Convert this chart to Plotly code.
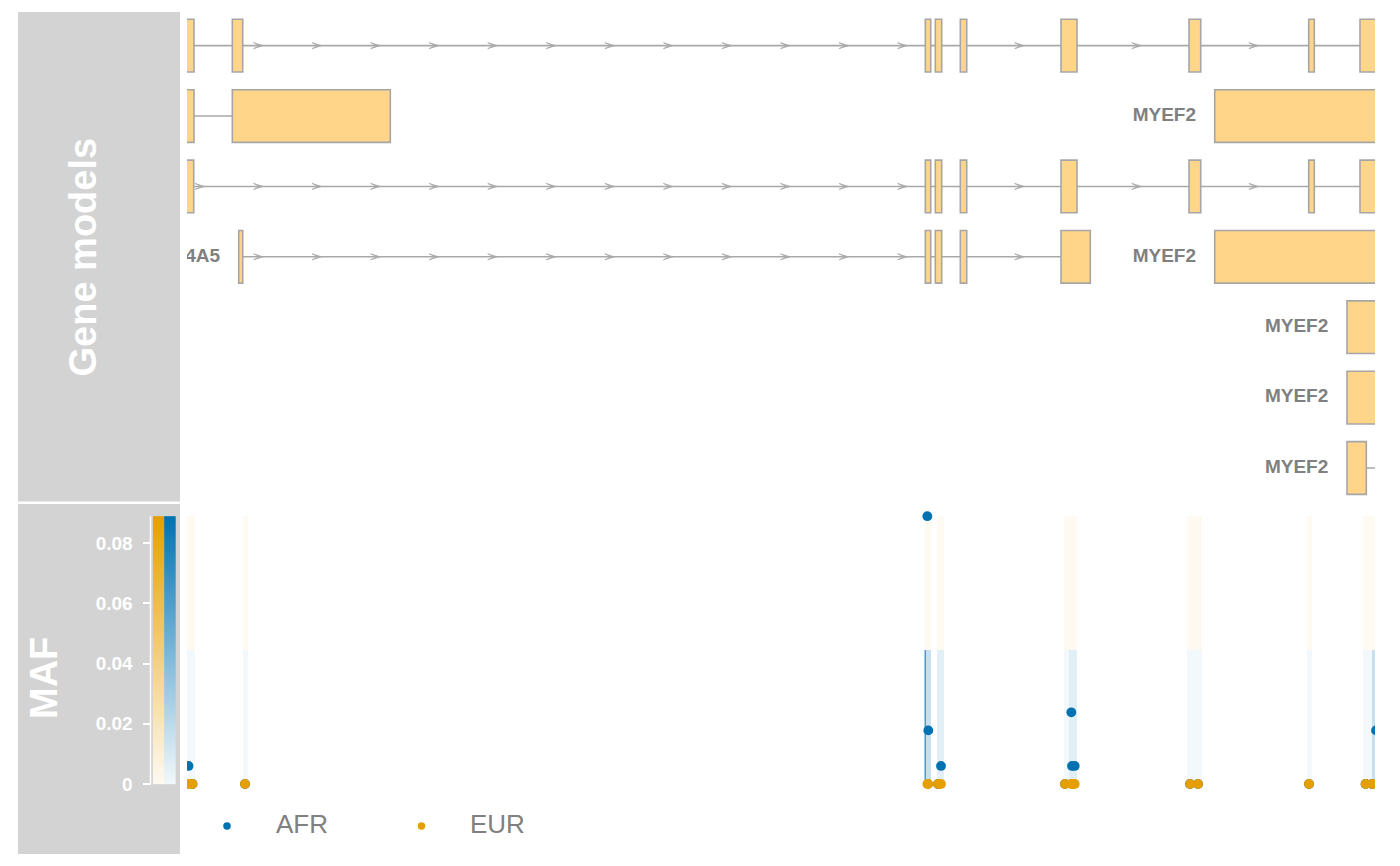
import numpy as np
import plotly.graph_objects as go

W, H = 1400, 866
FONT = "Liberation Sans, Arial, sans-serif"

# ---------------- data ----------------
REGION_START = 48120000
REGION_END = 48149700

tx_gene = ["SLC24A5", "SLC24A5", "SLC24A5", "SLC24A5",
           "MYEF2", "MYEF2", "MYEF2", "MYEF2", "MYEF2"]
tx_row = [1, 2, 3, 4, 2, 4, 5, 6, 7]
tx_strand = ["+", "+", "+", "+", "-", "-", "-", "-", "-"]
tx_exon_starts = [
    [48119575, 48121133, 48138458, 48138708, 48139333, 48141850, 48145050, 48148043, 48149325],
    [48119575, 48121133],
    [48119575, 48138458, 48138708, 48139333, 48141850, 48145050, 48148043, 48149325],
    [48121293, 48138458, 48138708, 48139333, 48141850],
    [48145693],
    [48145693],
    [48149000],
    [48149000],
    [48149000, 48151075],
]
tx_exon_ends = [
    [48120175, 48121393, 48138593, 48138868, 48139493, 48142250, 48145343, 48148183, 48150825],
    [48120175, 48125083],
    [48120168, 48138593, 48138868, 48139493, 48142250, 48145343, 48148183, 48150825],
    [48121393, 48138593, 48138868, 48139493, 48142583],
    [48150825],
    [48150825],
    [48150825],
    [48150825],
    [48149483, 48151575],
]

snp_pos = [48120038, 48120138, 48121450, 48138508, 48138533, 48138775, 48138850,
           48141950, 48142108, 48142125, 48142193, 48145075, 48145275, 48148050,
           48149463, 48149625, 48149725]
maf_afr = [0.006, 0.0, 0.0, 0.0889, 0.0178, 0.0, 0.006, 0.0, 0.0238, 0.006, 0.006,
           0.0, 0.0, 0.0, 0.0, 0.0, 0.0178]
maf_eur = [0.0, 0.0, 0.0, 0.0, 0.0, 0.0, 0.0, 0.0, 0.0, 0.0, 0.0,
           0.0, 0.0, 0.0, 0.0, 0.0, 0.0]

band_start = [48119975, 48121400, 48138450, 48138440, 48138750, 48141925, 48142050,
              48145000, 48148000, 48149400, 48149625]
band_end = [48120200, 48121525, 48138600, 48138470, 48138925, 48142050, 48142250,
            48145375, 48148125, 48149625, 48149950]
band_afr_shade = [0.05, 0.05, 0.22, 0.85, 0.11, 0.05, 0.12, 0.05, 0.05, 0.05, 0.22]
band_eur_shade = [0.05, 0.05, 0.05, 0.05, 0.05, 0.05, 0.05, 0.05, 0.05, 0.05, 0.05]

maf_ticks = [0, 0.02, 0.04, 0.06, 0.08]
maf_ticktext = ["0", "0.02", "0.04", "0.06", "0.08"]
populations = ["AFR", "EUR"]

# ---------------- style ----------------
AFR_COL = "#0072B2"
EUR_COL = "#E69F00"
EXON_FILL = "#FFD58A"
EXON_LINE = "#A6A6A6"
INTRON_COL = "#A9A9A9"
LABEL_COL = "#808080"
PANEL_GRAY = "#D3D3D3"


def hex2rgb(h):
    h = h.lstrip("#")
    return [int(h[i:i + 2], 16) for i in (0, 2, 4)]


def tint(h, a):
    r, g, b = hex2rgb(h)
    return "rgb(%d,%d,%d)" % (round(255 - (255 - r) * a), round(255 - (255 - g) * a),
                              round(255 - (255 - b) * a))


def py(p):  # pixel y -> paper
    return (H - p) / H


def px(p):
    return p / W


# layout geometry (pixels)
DATA_X0, DATA_X1 = 187, 1375
GENE_Y0, GENE_Y1 = 12, 501
MAF_Y0, MAF_Y1 = 506, 800
BP_PER_PX = (REGION_END - REGION_START) / (DATA_X1 - DATA_X0)

row_top, row_bot = 0.522, 7.469
ROW_PX = (GENE_Y1 - GENE_Y0) / (row_bot - row_top)
exon_half = 26.35 / ROW_PX

maf_max = max(maf_afr + maf_eur)
# MAF axis: 0 at pixel 784, 0.08 at 543
maf_px_per_unit = (784 - 543) / 0.08
maf_lo = -(MAF_Y1 - 784) / maf_px_per_unit
maf_hi = (784 - MAF_Y0) / maf_px_per_unit

fig = go.Figure()
shapes = []

# title panels
shapes.append(dict(type="rect", xref="paper", yref="paper", x0=px(18), x1=px(180),
                   y0=py(501.6), y1=py(12), fillcolor=PANEL_GRAY, line_width=0, layer="below"))
shapes.append(dict(type="rect", xref="paper", yref="paper", x0=px(18), x1=px(180),
                   y0=py(854), y1=py(504), fillcolor=PANEL_GRAY, line_width=0, layer="below"))

# ---------------- gene models ----------------
arrow_len = 9.5 * BP_PER_PX
arrow_notch = 6 * BP_PER_PX
arrow_half = 3.0 / ROW_PX
arrow_step = 58.55 * BP_PER_PX
arrow_origin = REGION_START + 17.5 * BP_PER_PX
min_intron = 50 * BP_PER_PX

ax, ay = [], []
for i in range(len(tx_gene)):
    starts, ends, row = tx_exon_starts[i], tx_exon_ends[i], tx_row[i]
    # backbone
    fig.add_trace(go.Scatter(x=[starts[0], ends[-1]], y=[row, row], mode="lines",
                             line=dict(color=INTRON_COL, width=1.6), hoverinfo="skip",
                             showlegend=False, xaxis="x", yaxis="y"))
    # arrows in introns
    for j in range(len(starts) - 1):
        a, b = ends[j], starts[j + 1]
        if b - a < min_intron:
            continue
        k0 = int(np.floor((a - arrow_origin) / arrow_step)) - 1
        k1 = int(np.ceil((b - arrow_origin) / arrow_step)) + 1
        for k in range(k0, k1 + 1):
            tip = arrow_origin + k * arrow_step
            if tx_strand[i] == "+":
                tail = tip - arrow_len
                if tail < a or tip > b:
                    continue
                ax += [tail, tip, tail, tip - arrow_len + arrow_notch, tail, None]
            else:
                tail = tip + arrow_len
                if tip < a or tail > b:
                    continue
                ax += [tail, tip, tail, tip + arrow_len - arrow_notch, tail, None]
            ay += [row - arrow_half, row, row + arrow_half, row, row - arrow_half, None]
    # exons
    for s, e in zip(starts, ends):
        shapes.append(dict(type="rect", xref="x", yref="y", x0=s, x1=e,
                           y0=row - exon_half, y1=row + exon_half,
                           fillcolor=EXON_FILL, line=dict(color=EXON_LINE, width=1.6)))

fig.add_trace(go.Scatter(x=ax, y=ay, mode="lines", fill="toself", fillcolor=INTRON_COL,
                         line=dict(color=INTRON_COL, width=0.8), hoverinfo="skip",
                         showlegend=False, xaxis="x", yaxis="y"))

# gene labels (left of each transcript)
label_gap = 18.7 * BP_PER_PX
fig.add_trace(go.Scatter(
    x=[st[0] - label_gap for st in tx_exon_starts], y=tx_row, mode="text", text=tx_gene,
    textposition="middle left", cliponaxis=True,
    textfont=dict(family=FONT, size=19, color=LABEL_COL, weight="bold"),
    hoverinfo="skip", showlegend=False, xaxis="x", yaxis="y"))

# ---------------- MAF track ----------------
for s, e, sa, se in zip(band_start, band_end, band_afr_shade, band_eur_shade):
    shapes.append(dict(type="rect", xref="x2", yref="y2", x0=s, x1=e, y0=0, y1=maf_max / 2,
                       fillcolor=tint(AFR_COL, sa), line_width=0, layer="below"))
    shapes.append(dict(type="rect", xref="x2", yref="y2", x0=s, x1=e, y0=maf_max / 2,
                       y1=maf_max, fillcolor=tint(EUR_COL, se), line_width=0, layer="below"))

fig.add_trace(go.Scatter(x=snp_pos, y=maf_afr, mode="markers", name="AFR",
                         marker=dict(color=AFR_COL, size=9.8, line_width=0),
                         showlegend=False, xaxis="x2", yaxis="y2"))
fig.add_trace(go.Scatter(x=snp_pos, y=maf_eur, mode="markers", name="EUR",
                         marker=dict(color=EUR_COL, size=9.8, line_width=0),
                         showlegend=False, xaxis="x2", yaxis="y2"))

# colour key strips
edges = np.linspace(0, maf_max, 121)
mids = (edges[:-1] + edges[1:]) / 2
for xe, col in (([0, 1], EUR_COL), ([1, 2], AFR_COL)):
    fig.add_trace(go.Heatmap(x=xe, y=edges, z=[[m] for m in mids], zmin=0, zmax=maf_max,
                             colorscale=[[0, tint(col, 0.05)], [1, col]], showscale=False,
                             hoverinfo="skip", xaxis="x3", yaxis="y2"))

# axis line of MAF
shapes.append(dict(type="line", xref="paper", yref="y2", x0=px(150.5), x1=px(150.5),
                   y0=0, y1=maf_max, line=dict(color="white", width=1.5)))

# ---------------- legend (manual) ----------------
leg_dot_x = [227, 421.5]
leg_txt_x = [276, 470]
leg_cols = [AFR_COL, EUR_COL]
fig.add_trace(go.Scatter(x=leg_dot_x, y=[0.5, 0.5], mode="markers",
                         marker=dict(color=leg_cols, size=7.5, line_width=0),
                         hoverinfo="skip", showlegend=False, xaxis="x4", yaxis="y4"))
fig.add_trace(go.Scatter(x=leg_txt_x, y=[0.5, 0.5], mode="text", text=populations,
                         textposition="middle right",
                         textfont=dict(family=FONT, size=26, color=LABEL_COL),
                         hoverinfo="skip", showlegend=False, xaxis="x4", yaxis="y4"))

# ---------------- layout ----------------
annotations = [
    dict(text="Gene models", xref="paper", yref="paper", x=px(82), y=py(257.5),
         textangle=-90, showarrow=False, xanchor="center", yanchor="middle",
         font=dict(family=FONT, size=38, color="white", weight="bold")),
    dict(text="MAF", xref="paper", yref="paper", x=px(44), y=py(678),
         textangle=-90, showarrow=False, xanchor="center", yanchor="middle",
         font=dict(family=FONT, size=38, color="white", weight="bold")),
]

hidden = dict(visible=False, showgrid=False, zeroline=False, fixedrange=True)
fig.update_layout(
    width=W, height=H, margin=dict(l=0, r=0, t=0, b=0),
    paper_bgcolor="white", plot_bgcolor="rgba(0,0,0,0)",
    showlegend=False, shapes=shapes, annotations=annotations,
    xaxis=dict(domain=[px(DATA_X0), px(DATA_X1)], range=[REGION_START, REGION_END],
               anchor="y", **hidden),
    yaxis=dict(domain=[py(GENE_Y1), py(GENE_Y0)], range=[row_bot, row_top],
               anchor="x", **hidden),
    xaxis2=dict(domain=[px(DATA_X0), px(DATA_X1)], range=[REGION_START, REGION_END],
                anchor="y2", matches="x", **hidden),
    yaxis2=dict(domain=[py(MAF_Y1), py(MAF_Y0)], range=[maf_lo, maf_hi],
                anchor="free", position=px(150.5), side="left",
                showgrid=False, zeroline=False, showline=False,
                tickmode="array", tickvals=maf_ticks, ticktext=maf_ticktext,
                ticks="outside", ticklen=8, tickwidth=1.5, tickcolor="white",
                ticklabelstandoff=6,
                tickfont=dict(family=FONT, size=19, color="white", weight="bold"),
                fixedrange=True),
    xaxis3=dict(domain=[px(152.7), px(175.7)], range=[0, 2], anchor="y2", **hidden),
    xaxis4=dict(domain=[0, 1], range=[0, W], anchor="y4", **hidden),
    yaxis4=dict(domain=[py(846), py(806)], range=[0, 1], anchor="x4", **hidden),
)

fig.write_html("out.html")
